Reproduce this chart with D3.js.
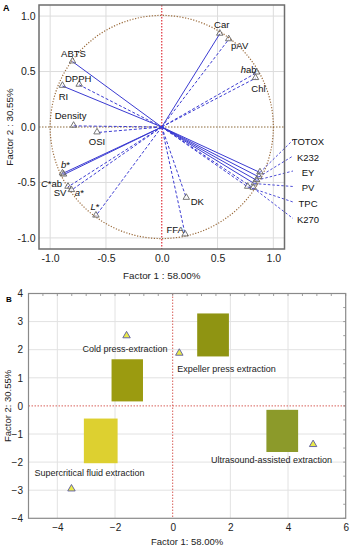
<!DOCTYPE html>
<html>
<head>
<meta charset="utf-8">
<script src="https://cdn.jsdelivr.net/npm/d3@7"></script>
<style>
body { margin: 0; background: #fff; }
svg { display: block; font-family: "Liberation Sans", Arial, sans-serif; }
</style>
</head>
<body>
<svg width="352" height="550"></svg>
<script>
// loadings (panel A)
var varNames = ["Car", "pAV", "hab", "Chl", "ABTS", "DPPH", "RI", "Density", "OSI", "b*", "C*ab", "SV", "a*", "L*", "FFA", "DK", "TOTOX", "K232", "EY", "PV", "TPC", "K270"];
var varF1 = [0.52, 0.60, 0.85, 0.84, -0.80, -0.74, -0.89, -0.79, -0.58, -0.89, -0.88, -0.84, -0.81, -0.59, 0.21, 0.22, 0.88, 0.87, 0.85, 0.83, 0.77, 0.82];
var varF2 = [0.84, 0.79, 0.49, 0.44, 0.59, 0.38, 0.37, 0.01, -0.05, -0.42, -0.43, -0.54, -0.57, -0.80, -0.97, -0.64, -0.41, -0.45, -0.48, -0.51, -0.54, -0.55];
var solidVars = ["Car", "ABTS", "RI", "b*", "C*ab", "TOTOX", "K232", "EY", "PV"];
var ticksA = [-1, -0.5, 0, 0.5, 1];

// scores (panel B)
var methods = ["Cold press-extraction", "Expeller press extraction", "Ultrasound-assisted extraction", "Supercritical fluid extraction"];
var methodF1 = [-1.6, 0.23, 4.87, -3.51];
var methodF2 = [2.5, 1.88, -1.37, -2.95];
var boxF1Min = [-2.12, 0.85, 3.25, -3.08];
var boxF1Max = [-1.03, 1.95, 4.35, -1.91];
var boxF2Min = [0.16, 1.76, -1.64, -2.04];
var boxF2Max = [1.66, 3.29, -0.14, -0.45];
var xTicksB = [-4, -2, 0, 2, 4, 6];
var yTicksB = [-4, -3, -2, -1, 0, 1, 2, 3, 4];

var svg = d3.select("svg");
var blue = "#3b3bd2";

// label offsets in px from each marker (layout only)
var labelOff = {
    "Car": [2, -9], "pAV": [11, 6], "hab": [-8, -4], "Chl": [3, 10],
    "ABTS": [1, -8], "DPPH": [-1, -6.5], "RI": [1, 11], "Density": [-3, -10],
    "OSI": [0, 8.5], "b*": [3, -10], "C*ab": [-12, 8], "SV": [-8, 6], "a*": [8, 2],
    "L*": [-1, -10], "FFA": [-10, -5], "DK": [11, 4]
};
var rightLabelY = {"TOTOX": 141, "K232": 157, "EY": 172, "PV": 187.5, "TPC": 203, "K270": 219.5};
var italicFirst = ["hab", "b*", "a*", "L*", "C*ab"];

/* ---------------- panel A ---------------- */
var xA = d3.scaleLinear().domain([-1.1, 1.1]).range([39, 284.5]);
var yA = d3.scaleLinear().domain([-1.1, 1.1]).range([249, 5]);
var gA = svg.append("g");

gA.selectAll(".gx").data(ticksA.filter(function(d) { return d != 0; }))
    .enter().append("line")
    .attr("x1", function(d) { return xA(d); }).attr("x2", function(d) { return xA(d); })
    .attr("y1", yA(1.1)).attr("y2", yA(-1.1))
    .attr("stroke", "#dcdcdc").attr("stroke-width", 1);
gA.selectAll(".gy").data(ticksA.filter(function(d) { return d != 0; }))
    .enter().append("line")
    .attr("y1", function(d) { return yA(d); }).attr("y2", function(d) { return yA(d); })
    .attr("x1", xA(-1.1)).attr("x2", xA(1.1))
    .attr("stroke", "#dcdcdc").attr("stroke-width", 1);

// unit circle + zero lines
gA.append("circle")
    .attr("cx", xA(0)).attr("cy", yA(0))
    .attr("r", xA(1) - xA(0))
    .attr("fill", "none").attr("stroke", "#9a6a3a")
    .attr("stroke-width", 1.2).attr("stroke-dasharray", "1.2,1.6");
gA.append("line")
    .attr("x1", xA(0)).attr("x2", xA(0)).attr("y1", yA(1.1)).attr("y2", yA(-1.1))
    .attr("stroke", "#e0303a").attr("stroke-width", 1.2).attr("stroke-dasharray", "1.5,1.5");
gA.append("line")
    .attr("x1", xA(-1.1)).attr("x2", xA(1.1)).attr("y1", yA(0)).attr("y2", yA(0))
    .attr("stroke", "#8b6a3a").attr("stroke-width", 1.2).attr("stroke-dasharray", "1.5,1.5");

var vars = varNames.map(function(n, i) {
    return {name: n, x: varF1[i], y: varF2[i], solid: solidVars.indexOf(n) >= 0};
});

gA.selectAll(".vec").data(vars).enter().append("line")
    .attr("x1", xA(0)).attr("y1", yA(0))
    .attr("x2", function(d) { return xA(d.x); })
    .attr("y2", function(d) { return yA(d.y); })
    .attr("stroke", blue).attr("stroke-width", 1)
    .attr("stroke-dasharray", function(d) { return d.solid ? null : "3,2"; });

// leader lines for the right-hand group
var rightVars = vars.filter(function(d) { return rightLabelY[d.name] != null; });
gA.selectAll(".lead").data(rightVars).enter().append("line")
    .attr("x1", function(d) { return xA(d.x); })
    .attr("y1", function(d) { return yA(d.y); })
    .attr("x2", 293).attr("y2", function(d) { return rightLabelY[d.name] - 1; })
    .attr("stroke", blue).attr("stroke-width", 0.9).attr("stroke-dasharray", "2.5,2");

gA.selectAll(".mk").data(vars).enter().append("path")
    .attr("d", d3.symbol().type(d3.symbolTriangle).size(18))
    .attr("transform", function(d) { return "translate(" + xA(d.x) + "," + (yA(d.y) - 0.5) + ")"; })
    .attr("fill", "none").attr("stroke", "#666").attr("stroke-width", 0.9);

var lab = gA.selectAll(".lab").data(vars).enter().append("text")
    .attr("font-size", 9.5).attr("fill", "#111")
    .attr("text-anchor", "middle").attr("dominant-baseline", "central")
    .attr("x", function(d) {
        if (rightLabelY[d.name] != null) return 308;
        return xA(d.x) + labelOff[d.name][0];
    })
    .attr("y", function(d) {
        if (rightLabelY[d.name] != null) return rightLabelY[d.name];
        return yA(d.y) + labelOff[d.name][1];
    });
lab.each(function(d) {
    var t = d3.select(this);
    if (italicFirst.indexOf(d.name) >= 0) {
        t.append("tspan").attr("font-style", "italic").text(d.name.charAt(0));
        t.append("tspan").text(d.name.slice(1));
    } else {
        t.text(d.name);
    }
});

// frame + axes
gA.append("rect")
    .attr("x", xA(-1.1)).attr("y", yA(1.1))
    .attr("width", xA(1.1) - xA(-1.1)).attr("height", yA(-1.1) - yA(1.1))
    .attr("fill", "none").attr("stroke", "#6e6e6e").attr("stroke-width", 1.5);

var fmtA = function(d) { return d.toFixed(1); };
var axA = gA.append("g").attr("transform", "translate(0," + yA(-1.1) + ")")
    .call(d3.axisBottom(xA).tickValues(ticksA).tickFormat(fmtA).tickSize(0).tickPadding(5.5));
var ayA = gA.append("g").attr("transform", "translate(" + xA(-1.1) + ",0)")
    .call(d3.axisLeft(yA).tickValues(ticksA).tickFormat(fmtA).tickSize(0).tickPadding(3.5));
[axA, ayA].forEach(function(a) {
    a.select(".domain").remove();
    a.selectAll("text").attr("font-size", 10.5).attr("fill", "#222")
        .style("font-family", "'Liberation Sans', Arial, sans-serif");
});

gA.append("text").attr("x", xA(0)).attr("y", 278.5)
    .attr("text-anchor", "middle").attr("font-size", 9.8).attr("fill", "#222")
    .text("Factor 1 : 58.00%");
gA.append("text").attr("transform", "translate(13," + yA(0) + ") rotate(-90)")
    .attr("text-anchor", "middle").attr("font-size", 9.8).attr("fill", "#222")
    .text("Factor 2 : 30.55%");
gA.append("text").attr("x", 3).attr("y", 11)
    .attr("font-size", 9).attr("font-weight", "bold").text("A");

/* ---------------- panel B ---------------- */
var xB = d3.scaleLinear().domain([-5, 6]).range([28.5, 345.7]);
var yB = d3.scaleLinear().domain([-4, 4]).range([518.3, 293.5]);
var gB = svg.append("g");
var boxColors = ["#9b9b10", "#8f9412", "#8c9a2a", "#ddd030"];

gB.selectAll(".gx").data([-4, -2, 2, 4]).enter().append("line")
    .attr("x1", function(d) { return xB(d); }).attr("x2", function(d) { return xB(d); })
    .attr("y1", yB(4)).attr("y2", yB(-4))
    .attr("stroke", "#e2e2e2").attr("stroke-width", 1);
gB.selectAll(".gy").data([-3, -2, -1, 1, 2, 3]).enter().append("line")
    .attr("y1", function(d) { return yB(d); }).attr("y2", function(d) { return yB(d); })
    .attr("x1", xB(-5)).attr("x2", xB(6))
    .attr("stroke", "#e2e2e2").attr("stroke-width", 1);

gB.append("line")
    .attr("x1", xB(0)).attr("x2", xB(0)).attr("y1", yB(4)).attr("y2", yB(-4))
    .attr("stroke", "#d8605a").attr("stroke-width", 1).attr("stroke-dasharray", "1.5,1.5");
gB.append("line")
    .attr("x1", xB(-5)).attr("x2", xB(6)).attr("y1", yB(0)).attr("y2", yB(0))
    .attr("stroke", "#d8605a").attr("stroke-width", 1).attr("stroke-dasharray", "1.5,1.5");

var groups = methods.map(function(m, i) {
    return {name: m, x: methodF1[i], y: methodF2[i],
            x0: boxF1Min[i], x1: boxF1Max[i], y0: boxF2Min[i], y1: boxF2Max[i], color: boxColors[i]};
});

gB.selectAll(".box").data(groups).enter().append("rect")
    .attr("x", function(d) { return xB(d.x0); })
    .attr("y", function(d) { return yB(d.y1); })
    .attr("width", function(d) { return xB(d.x1) - xB(d.x0); })
    .attr("height", function(d) { return yB(d.y0) - yB(d.y1); })
    .attr("fill", function(d) { return d.color; });

gB.selectAll(".tri").data(groups).enter().append("path")
    .attr("d", d3.symbol().type(d3.symbolTriangle).size(24))
    .attr("transform", function(d) { return "translate(" + xB(d.x) + "," + yB(d.y) + ")"; })
    .attr("fill", "#eaea4a").attr("stroke", "#5a5aa0").attr("stroke-width", 0.9);

var methodLabelPos = [[125, 348.5], [226.5, 369], [271.5, 460], [89.5, 473]];
gB.selectAll(".ml").data(groups).enter().append("text")
    .attr("x", function(d, i) { return methodLabelPos[i][0]; })
    .attr("y", function(d, i) { return methodLabelPos[i][1]; })
    .attr("text-anchor", "middle").attr("dominant-baseline", "central")
    .attr("font-size", 9).attr("fill", "#222")
    .text(function(d) { return d.name; });

// minor ticks on top and right edges
gB.selectAll(".tt").data(d3.range(-5, 6.01, 0.5)).enter().append("line")
    .attr("x1", function(d) { return xB(d); }).attr("x2", function(d) { return xB(d); })
    .attr("y1", yB(4)).attr("y2", yB(4) + 2.5)
    .attr("stroke", "#888").attr("stroke-width", 0.8);
gB.selectAll(".tr").data(d3.range(-4, 4.01, 0.5)).enter().append("line")
    .attr("y1", function(d) { return yB(d); }).attr("y2", function(d) { return yB(d); })
    .attr("x1", xB(6)).attr("x2", xB(6) - 2.5)
    .attr("stroke", "#888").attr("stroke-width", 0.8);

gB.append("rect")
    .attr("x", xB(-5)).attr("y", yB(4))
    .attr("width", xB(6) - xB(-5)).attr("height", yB(-4) - yB(4))
    .attr("fill", "none").attr("stroke", "#8a8a8a").attr("stroke-width", 1.2);

var axB = gB.append("g").attr("transform", "translate(0," + yB(-4) + ")")
    .call(d3.axisBottom(xB).tickValues(xTicksB).tickSize(0).tickPadding(5.5));
var ayB = gB.append("g").attr("transform", "translate(" + xB(-5) + ",0)")
    .call(d3.axisLeft(yB).tickValues(yTicksB).tickSize(0).tickPadding(5.5));
[axB, ayB].forEach(function(a) {
    a.select(".domain").remove();
    a.selectAll("text").attr("font-size", 10).attr("fill", "#222")
        .style("font-family", "'Liberation Sans', Arial, sans-serif");
});

gB.append("text").attr("x", (xB(-5) + xB(6)) / 2).attr("y", 545)
    .attr("text-anchor", "middle").attr("font-size", 9.5).attr("fill", "#222")
    .text("Factor 1: 58.00%");
gB.append("text").attr("transform", "translate(11," + yB(0) + ") rotate(-90)")
    .attr("text-anchor", "middle").attr("font-size", 9.5).attr("fill", "#222")
    .text("Factor 2: 30.55%");
gB.append("text").attr("x", 6).attr("y", 302)
    .attr("font-size", 8).attr("font-weight", "bold").text("B");
</script>
</body>
</html>
